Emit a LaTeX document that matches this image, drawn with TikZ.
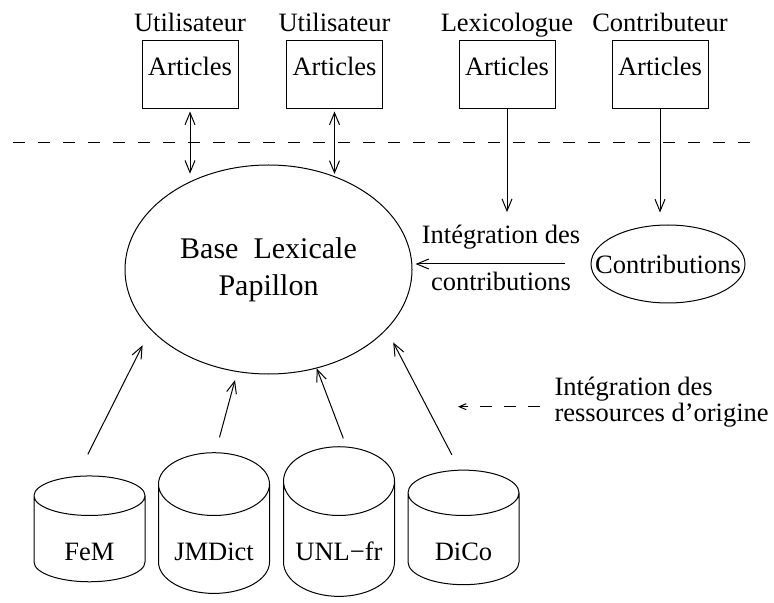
\documentclass[tikz,border=0pt]{standalone}
\usepackage{fontspec}
\setmainfont{Liberation Serif}
\usetikzlibrary{shapes.geometric,arrows.meta,positioning}
\tikzset{
  artbox/.style = {draw, rectangle, minimum width=48pt, minimum height=34pt,
    inner sep=0pt, text height=8pt, text depth=7pt},% boite d'articles
  role/.style = {inner sep=0pt, text depth=0pt},% role au-dessus des boites
  dbase/.style = {draw, cylinder, shape border rotate=90, aspect=0.79,
    minimum width=55.5pt, minimum height=44pt, inner sep=0pt,
    text height=22pt, text depth=1pt},% ressource d'origine
  bigell/.style = {draw, ellipse, minimum width=143.5pt, minimum height=104.5pt,
    inner sep=0pt, align=center, font=\fontsize{15pt}{18.5pt}\selectfont},
  smallell/.style = {draw, ellipse, minimum width=77pt, minimum height=39pt,
    inner xsep=-10pt, inner ysep=0pt},
  arr/.style = {-{Straight Barb[length=6pt,width=5pt]}},
  dblarr/.style = {{Straight Barb[length=6pt,width=5pt]}-{Straight Barb[length=6pt,width=5pt]}},
  legarr/.style = {-{Straight Barb[length=3.5pt,width=3pt]}, dash pattern=on 6pt off 6pt},
  sepline/.style = {dash pattern=on 6pt off 6.5pt}
}
\begin{document}
\begin{tikzpicture}[x=0.5pt,y=-0.5pt,line width=0.5pt,
    font=\fontsize{13.25pt}{16pt}\selectfont]
        \useasboundingbox (0,0) rectangle (774,603);
        % sources des articles
        \node [artbox] (u1) at (190,75) {Articles};
        \node [artbox] (u2) at (334.5,75) {Articles};
        \node [artbox] (lex) at (507,75) {Articles};
        \node [artbox] (c4) at (660,75) {Articles};
        \node [role, above=4pt of u1] (r1) {Utilisateur};
        \node [role, above=4pt of u2] (r2) {Utilisateur};
        \node [role, above=4pt of lex] (r3) {Lexicologue};
        \node [role, above=4pt of c4] (r4) {Contributeur};
        \draw [sepline] (13,143) -- (760,143);
        % base centrale
        \node [bigell] (base) at (268.5,269.5) {Base\ \ Lexicale\\Papillon};
        \node [smallell] (contrib) at (668,264) {Contributions};
        \node [inner sep=0pt, align=center, font=\fontsize{13.25pt}{23.8pt}\selectfont]
            (intc) at (501,257.8) {Intégration des\\contributions};
        % ressources d'origine
        \node [dbase] (fem) at (89.5,539) {FeM};
        \node [dbase] (jmd) at (214,539) {JMDict};
        \node [dbase] (unl) at (339,539) {UNL−fr};
        \node [dbase] (dico) at (463.5,539) {DiCo};
        \node [inner sep=0pt, align=left, anchor=west,
            font=\fontsize{13.25pt}{11.5pt}\selectfont]
            (leg) at (554,402.3) {Intégration des\\ressources d'origine};
        \coordinate (legtip) at (458,406.7);
        % fleches
        \draw [dblarr, shorten <=1pt, shorten >=4pt] (u1.south) -- (u1.south |- base.132);
        \draw [dblarr, shorten <=1pt, shorten >=1pt] (u2.south) -- (u2.south |- base.55);
        \draw [arr, shorten >=6pt] (lex.south) -- (lex.south |- intc.north);
        \draw [arr, shorten >=6pt] (c4.south) -- (c4.south |- contrib.north);
        \draw [arr, shorten <=13pt, shorten >=1.5pt] (contrib.west) -- (contrib.west -| base.east);
        \draw [arr, shorten <=11.8pt, shorten >=8.75pt] ([xshift=-6.15pt]fem.north) -- (base.207);
        \draw [arr, shorten <=7.7pt, shorten >=4.2pt] ([xshift=0.75pt]jmd.north) -- (base.253.9);
        \draw [arr, shorten <=4.2pt] ([xshift=3.65pt]unl.north) -- (base.296.3);
        \draw [arr, shorten <=8.4pt, shorten >=7.25pt] ([xshift=-1.95pt]dico.north) -- (base.333.2);
        \draw [legarr, shorten <=7pt] (leg.west |- legtip) -- (legtip);
\end{tikzpicture}
\end{document}
